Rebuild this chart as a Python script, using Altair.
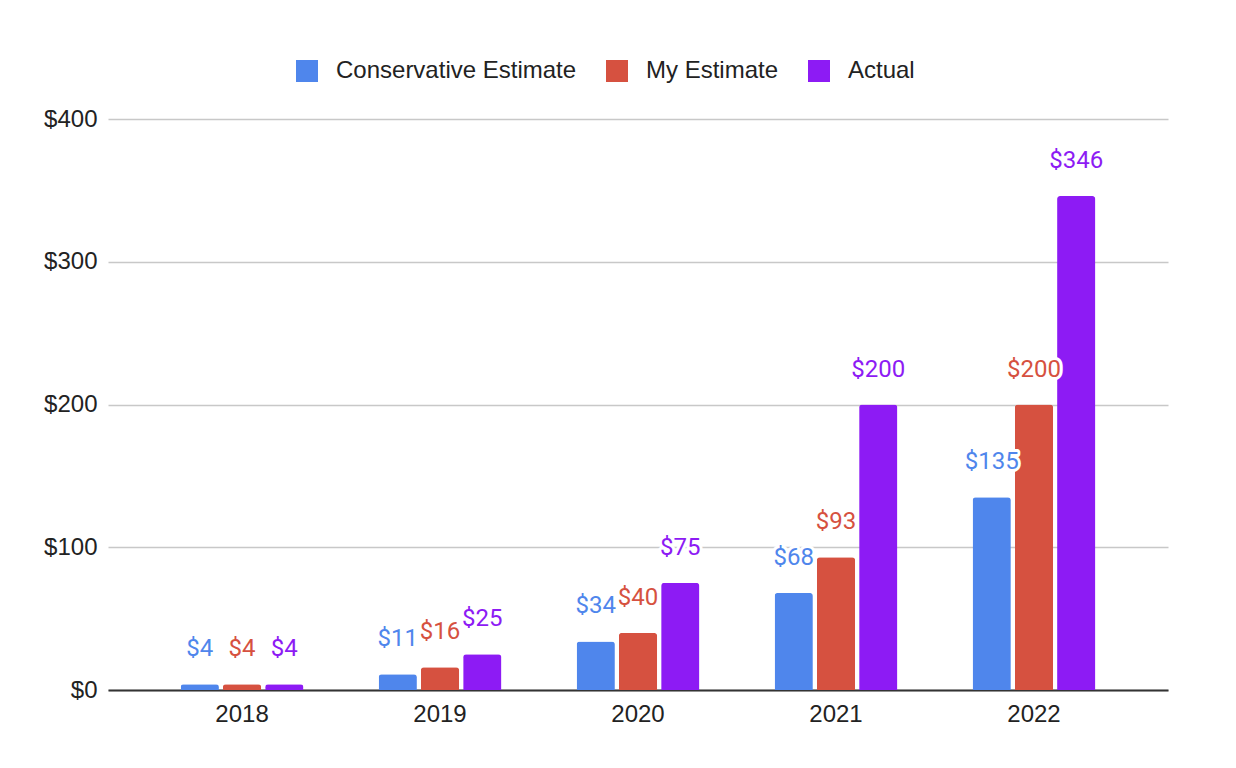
import altair as alt
import pandas as pd

years = ["2018", "2019", "2020", "2021", "2022"]
series = ["Conservative Estimate", "My Estimate", "Actual"]
conservative = [4, 11, 34, 68, 135]
mine = [4, 16, 40, 93, 200]
actual = [4, 25, 75, 200, 346]
colors = ["#4f86ec", "#d65140", "#8d1bf4"]

rows = []
for s, vals in zip(series, [conservative, mine, actual]):
    for yr, v in zip(years, vals):
        rows.append({"year": yr, "series": s, "value": v, "label": f"${v}"})
df = pd.DataFrame(rows)

x = alt.X("year:N", title=None,
          scale=alt.Scale(paddingInner=0.38, paddingOuter=0.367),
          axis=alt.Axis(labelAngle=0, labelFont="Liberation Sans", labelFontSize=24,
                        labelColor="#222222", labelPadding=12, ticks=False,
                        domainColor="#333333", domainWidth=2, grid=False))
xo = alt.XOffset("series:N", sort=series,
                 scale=alt.Scale(paddingInner=0.095, paddingOuter=0))
y = alt.Y("value:Q", title=None,
          scale=alt.Scale(domain=[0, 400]),
          axis=alt.Axis(values=[0, 100, 200, 300, 400], labelExpr="'$' + datum.value",
                        labelFont="Liberation Sans", labelFontSize=24, labelColor="#222222",
                        labelPadding=11, ticks=False, domain=False,
                        gridColor="#c8c8c8", gridWidth=1.5))
color_scale = alt.Scale(domain=series, range=colors)

bars = alt.Chart(df).mark_bar(cornerRadiusTopLeft=3, cornerRadiusTopRight=3).encode(
    x=x, xOffset=xo, y=y,
    color=alt.Color("series:N", scale=color_scale,
                    legend=alt.Legend(orient="none", legendX=187, legendY=-60,
                                      direction="horizontal", title=None,
                                      symbolType="square", symbolSize=484,
                                      symbolStrokeWidth=0, symbolOpacity=1,
                                      labelFont="Liberation Sans", labelFontSize=24,
                                      labelColor="#222222", labelOffset=17,
                                      labelLimit=500, columnPadding=28)),
)

halo = alt.Chart(df).mark_text(font="Roboto", fontSize=24, baseline="alphabetic", dy=-28,
                               stroke="white", strokeWidth=6, strokeJoin="round",
                               fill="white").encode(
    x=x, xOffset=xo, y=y, text="label:N",
)

labels = alt.Chart(df).mark_text(font="Roboto", fontSize=24, baseline="alphabetic", dy=-28).encode(
    x=x, xOffset=xo, y=y, text="label:N",
    color=alt.Color("series:N", scale=color_scale, legend=None),
)

chart = alt.layer(bars, halo, labels).properties(
    width=1060, height=571,
    autosize=alt.AutoSizeParams(type="none"),
    padding={"left": 100, "top": 111, "right": 60, "bottom": 80},
    background="white",
).configure_view(stroke=None)

chart.save("out.html", embed_options={"renderer": "svg", "actions": False})
